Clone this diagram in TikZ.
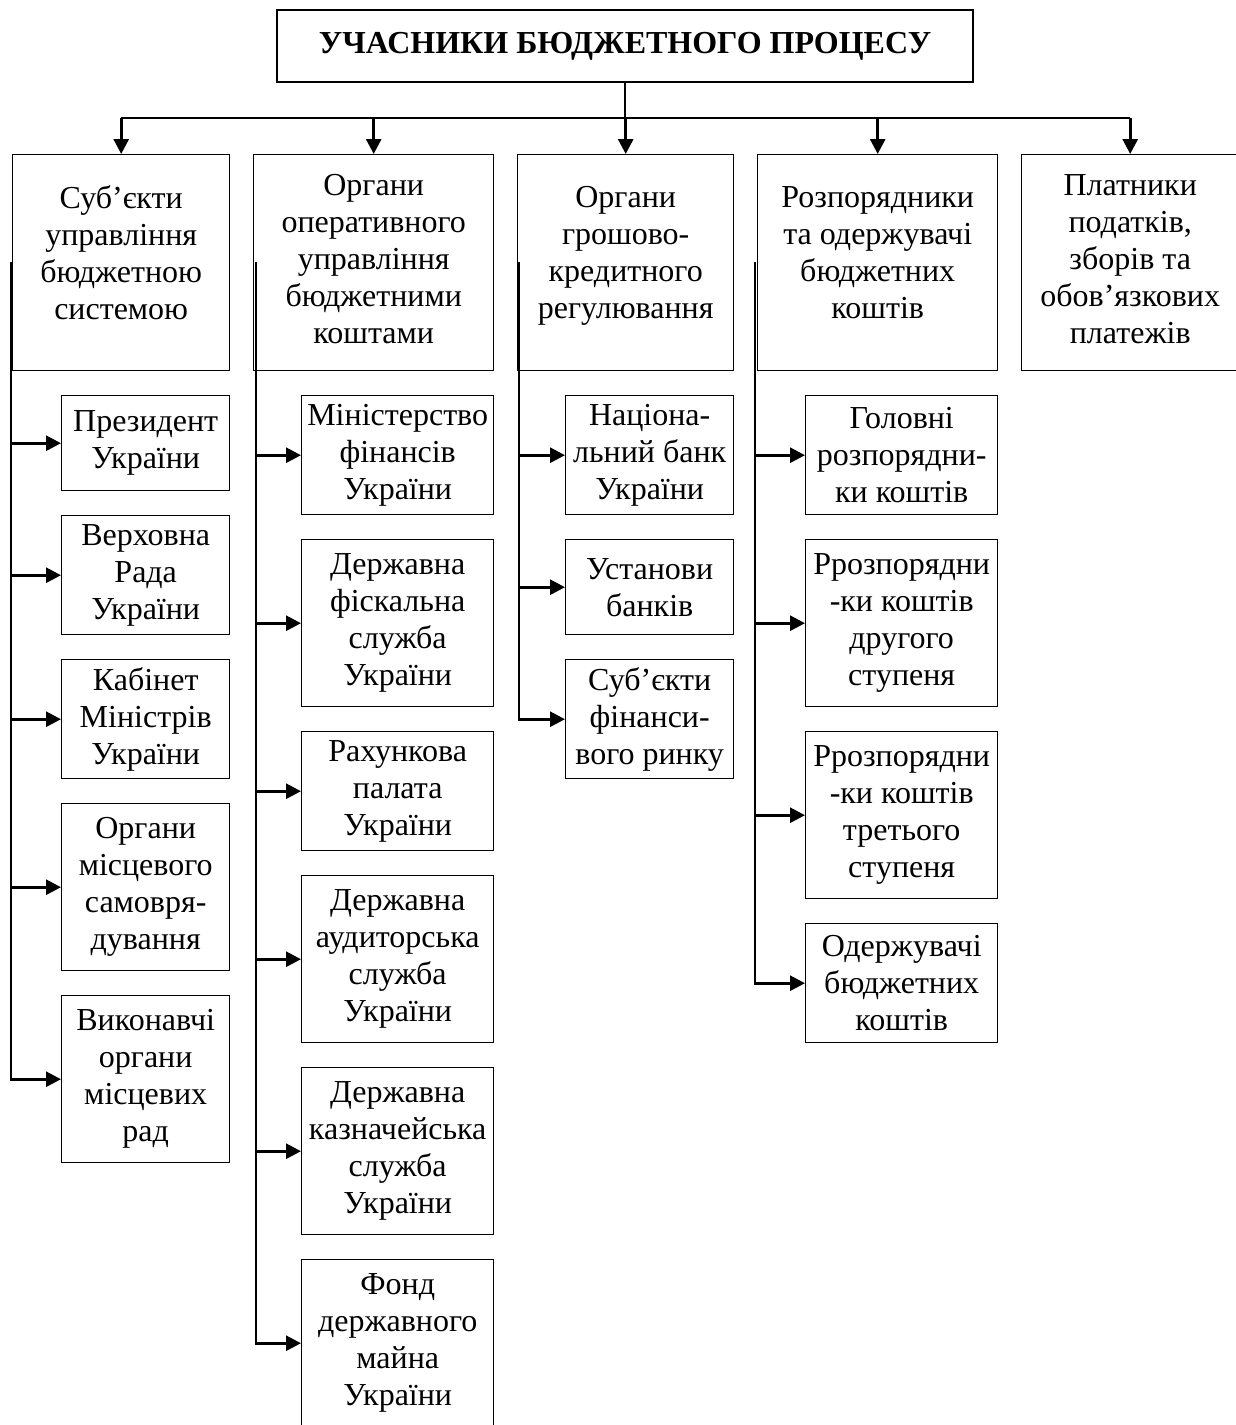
\documentclass[tikz,border=0pt]{standalone}
\usepackage{fontspec}
\setmainfont{Liberation Serif}
\usetikzlibrary{arrows.meta,positioning}

\begin{document}
\begin{tikzpicture}[x=1pt,y=-1pt]
	\tikzstyle{box}=[draw, line width=1.4pt, align=center, inner sep=0pt, font=\fontsize{32}{37}\selectfont]
	\tikzstyle{headbox}=[box, anchor=north west, minimum height=216pt, text depth=21pt]
	\tikzstyle{subbox}=[box, anchor=north west]
	\tikzstyle{narrow}=[minimum width=168pt]
	\tikzstyle{wide}=[minimum width=192pt]
	\tikzstyle{conn}=[line width=2.8pt]
	\tikzstyle{arr}=[conn, -{Triangle[length=15pt,width=15pt]}]
	\useasboundingbox (0,0) rectangle (1236,1425);

	% title
	\node[box, minimum width=696pt, minimum height=72pt, font=\bfseries\fontsize{32}{37}\selectfont] (title) at (625,46) {УЧАСНИКИ БЮДЖЕТНОГО ПРОЦЕСУ};

	% head boxes
	\node[headbox, minimum width=217pt] (h1) at (12,154) {Суб’єкти\\управління\\бюджетною\\системою};
	\node[headbox, minimum width=240pt, text depth=7pt] (h2) at (253,154) {Органи\\оперативного\\управління\\бюджетними\\коштами};
	\node[headbox, minimum width=216pt] (h3) at (517,154) {Органи\\грошово-\\кредитного\\регулювання};
	\node[headbox, minimum width=240pt] (h4) at (757,154) {Розпорядники\\та одержувачі\\бюджетних\\коштів};
	\node[headbox, minimum width=217pt, text depth=7pt] (h5) at (1021,154) {Платники\\податків,\\зборів та\\обов’язкових\\платежів};

	% column 1
	\node[subbox, narrow, minimum height=95pt] (pres) at (61,395) {Президент\\України};
	\node[subbox, narrow, minimum height=119pt] (vrada) at (61,515) {Верховна\\Рада\\України};
	\node[subbox, narrow, minimum height=119pt] (kmu) at (61,659) {Кабінет\\Міністрів\\України};
	\node[subbox, narrow, minimum height=167pt] (omsv) at (61,803) {Органи\\місцевого\\самовря-\\дування};
	\node[subbox, narrow, minimum height=167pt] (vykon) at (61,995) {Виконавчі\\органи\\місцевих\\рад};

	% column 2
	\node[subbox, wide, minimum height=119pt] (minfin) at (301,395) {Міністерство\\фінансів\\України};
	\node[subbox, wide, minimum height=167pt] (dfs) at (301,539) {Державна\\фіскальна\\служба\\України};
	\node[subbox, wide, minimum height=119pt] (rahp) at (301,731) {Рахункова\\палата\\України};
	\node[subbox, wide, minimum height=167pt] (dass) at (301,875) {Державна\\аудиторська\\служба\\України};
	\node[subbox, wide, minimum height=167pt] (dkss) at (301,1067) {Державна\\казначейська\\служба\\України};
	\node[subbox, wide, minimum height=167pt] (fdmu) at (301,1259) {Фонд\\державного\\майна\\України};

	% column 3
	\node[subbox, narrow, minimum height=119pt] (nbu) at (565,395) {Націона-\\льний банк\\України};
	\node[subbox, narrow, minimum height=95pt] (bank) at (565,539) {Установи\\банків};
	\node[subbox, narrow, minimum height=119pt] (sfr) at (565,659) {Суб’єкти\\фінанси-\\вого ринку};

	% column 4
	\node[subbox, wide, minimum height=119pt] (golov) at (805,395) {Головні\\розпорядни-\\ки коштів};
	\node[subbox, wide, minimum height=167pt] (rozp2) at (805,539) {Ррозпорядни\\-ки коштів\\другого\\ступеня};
	\node[subbox, wide, minimum height=167pt] (rozp3) at (805,731) {Ррозпорядни\\-ки коштів\\третього\\ступеня};
	\node[subbox, wide, minimum height=119pt] (oderzh) at (805,923) {Одержувачі\\бюджетних\\коштів};

	% top connectors
	\coordinate (hub) at (625,118);
	\draw[conn] (title.south) -- (hub);
	\draw[conn] (hub -| h1.north) -- (hub -| h5.north);
	\foreach \h in {h1,h2,h3,h4,h5}
		\draw[arr] (hub -| \h.north) -- (\h.north);

	% side connectors
	\coordinate (s1) at (11,262);
	\coordinate (s2) at (256,262);
	\coordinate (s3) at (519,262);
	\coordinate (s4) at (755,262);
	\foreach \c in {pres,vrada,kmu,omsv,vykon}
		\draw[arr] (s1) |- (\c.west);
	\foreach \c in {minfin,dfs,rahp,dass,dkss,fdmu}
		\draw[arr] (s2) |- (\c.west);
	\foreach \c in {nbu,bank,sfr}
		\draw[arr] (s3) |- (\c.west);
	\foreach \c in {golov,rozp2,rozp3,oderzh}
		\draw[arr] (s4) |- (\c.west);
\end{tikzpicture}
\end{document}
